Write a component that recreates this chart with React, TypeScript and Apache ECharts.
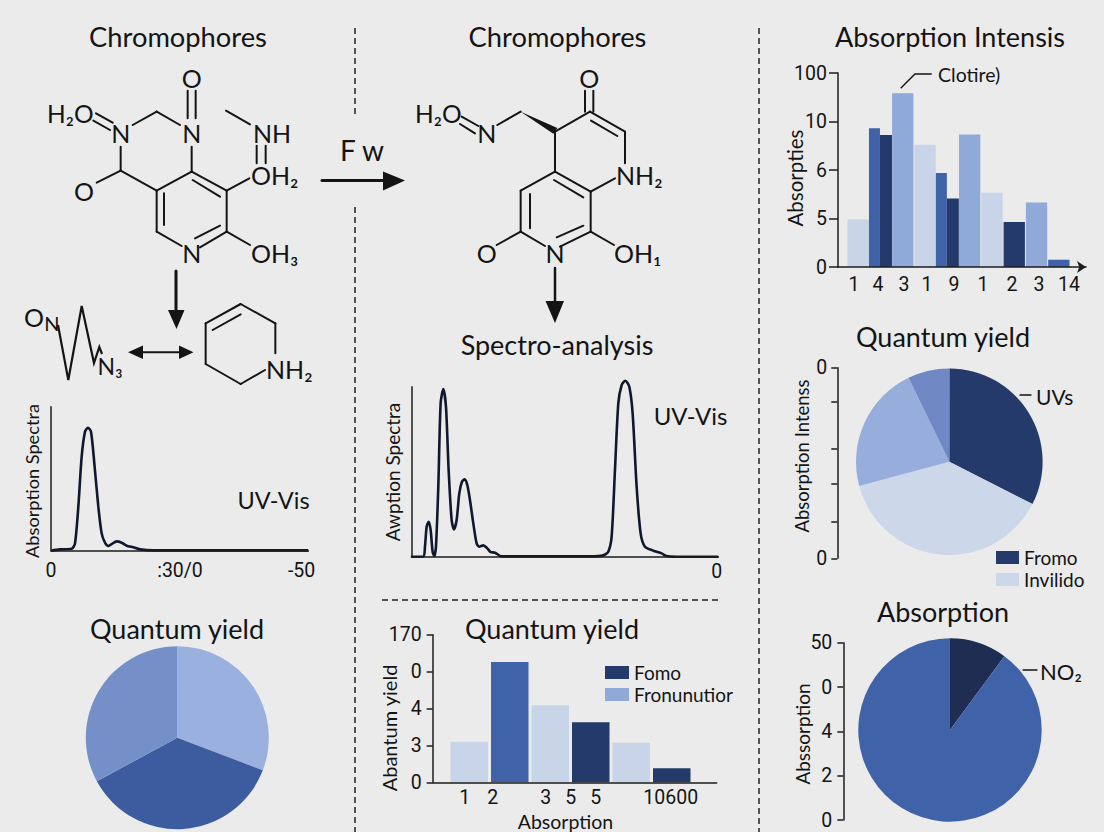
import React, { useEffect, useRef } from "react";
import * as echarts from "echarts";

// ---- data ----
const barGroups1 = ["a", "b", "c", "d", "e", "f", "g", "h", "i", "j"];
const wideValues1 = [0.98, null, 3.58, 2.52, null, 2.73, 1.53, 0.93, 1.33, 0.15];
const wideTones1 = ["light", null, "soft", "light", null, "soft", "light", "dark", "soft", "mid"];
const narrowLeft1 = [null, 2.86, null, null, 1.94, null, null, null, null, null];
const narrowRight1 = [null, 2.72, null, null, 1.41, null, null, null, null, null];
const xLabels1 = ["1", "4", "3", "1", "9", "1", "2", "3", "14"];
const yLabels1 = ["0", "5", "6", "10", "100"];

const spectrumLeftX = [0, 27, 62, 72, 82, 92, 102, 111, 120, 130, 142, 152, 162, 172, 182, 197, 212, 227, 247, 267, 307, 772];
const spectrumLeftY = [0, 4, 6, 22, 132, 282, 357, 369, 357, 262, 132, 52, 24, 14, 20, 28, 24, 15, 10, 4, 1, 1];
const spectrumLeftLabels = ["0", ":30/0", "-50"];

const spectrumMidX = [0, 36, 41, 46, 52, 58, 64, 69, 74, 81, 88, 96, 104, 112, 121, 128, 136, 144, 152, 160, 168, 176, 186, 196, 204, 216, 228, 238, 251, 271, 536, 576, 591, 601, 611, 621, 631, 642, 654, 664, 676, 688, 701, 726, 751, 766, 796, 921];
const spectrumMidY = [0, 0, 30, 90, 105, 80, 15, 2, 30, 210, 460, 503, 450, 260, 110, 82, 110, 190, 225, 232, 215, 170, 100, 40, 30, 34, 25, 14, 12, 1, 1, 4, 15, 60, 260, 460, 515, 528, 510, 430, 210, 70, 30, 18, 10, 2, 0, 0];
const spectrumMidLabels = ["0"];

const barCats2 = ["p", "q", "r", "s", "t", "u"];
const fomoValues2 = [null, null, null, 1.63, null, 0.38];
const fronValues2 = [1.1, null, 2.09, null, 1.07, null];
const midValues2 = [null, 3.26, null, null, null, null];
const xLabels2 = ["1", "2", "3", "5", "5", "10600"];
const yLabels2 = ["0", "3", "4", "0", "170"];

const pieLeftNames = ["Part A", "Part B", "Part C"];
const pieLeftValues = [30.8, 36.3, 32.9];
const pieRightNames = ["Fromo", "Invilido", "Part D", "Part E"];
const pieRightValues = [32.5, 38.3, 22, 7.2];
const pieLowNames = ["Part F", "NO2"];
const pieLowValues = [10.1, 89.9];
const axisLabelsPieRight = ["0", "", "", "", "", "0"];
const axisLabelsPieLow = ["0", "2", "4", "0", "50"];

// ---- styling ----
const DARK = "#233a6b";
const MID = "#3f62a8";
const SOFT = "#8fa9d9";
const LIGHT = "#c8d4e8";
const tones: Record<string, string> = { dark: DARK, mid: MID, soft: SOFT, light: LIGHT };
const INK = "#141414";
const TITLE_FONT = "Lato";
const TICK_FONT = "Roboto";
const BG = "#ebebeb";

function txt(x: number, y: number, text: string, size: number, align = "center", family = TITLE_FONT, rotation = 0) {
  return {
    type: "text", x, y, rotation, silent: true,
    style: { text, fontSize: size, fontFamily: family, fill: INK, align, verticalAlign: "middle" },
  };
}
function seg(x1: number, y1: number, x2: number, y2: number, w = 2) {
  return { type: "line", silent: true, shape: { x1, y1, x2, y2 }, style: { stroke: INK, lineWidth: w, lineCap: "round" } };
}
function dash(x1: number, y1: number, x2: number, y2: number) {
  return { type: "line", silent: true, shape: { x1, y1, x2, y2 }, style: { stroke: "#222", lineWidth: 1.5, lineDash: [6, 4] } };
}
function poly(points: number[][]) {
  return { type: "polygon", silent: true, shape: { points }, style: { fill: INK } };
}

function decorations() {
  const els: any[] = [];
  // crop helpers: zoomed coordinates to page coordinates
  const bonds = (ox: number, oy: number, list: number[][]) =>
    list.forEach((b) => els.push(seg(ox + b[0] / 3, oy + b[1] / 3, ox + b[2] / 3, oy + b[3] / 3)));

  // separators
  els.push(dash(355, 28, 355, 118), dash(355, 207, 355, 832), dash(759, 28, 759, 832), dash(382, 600, 720, 600));

  // titles
  els.push(
    txt(178, 36, "Chromophores", 27.3),
    txt(557.5, 36, "Chromophores", 27.3),
    txt(950, 36, "Absorption Intensis", 27),
    txt(177, 628, "Quantum yield", 27),
    txt(552, 628, "Quantum yield", 27),
    txt(943, 336, "Quantum yield", 27),
    txt(943, 611, "Absorption", 27),
    txt(557, 344, "Spectro-analysis", 27)
  );

  // left molecule
  bonds(0, 0, [
    [288, 340, 338, 368], [280, 362, 330, 390], [398, 375, 470, 335], [470, 335, 540, 375],
    [563, 355, 563, 272], [587, 355, 587, 272], [362, 440, 362, 512], [362, 512, 290, 548],
    [362, 512, 470, 572], [470, 572, 575, 515], [575, 515, 575, 440], [575, 515, 680, 572],
    [578, 540, 660, 590], [470, 572, 470, 695], [492, 580, 492, 675], [470, 695, 545, 738],
    [600, 742, 680, 695], [585, 715, 660, 677], [680, 572, 680, 695], [680, 572, 748, 535],
    [680, 695, 750, 735], [678, 332, 750, 373], [770, 437, 770, 490], [797, 437, 797, 490],
    [617, 970, 722, 912], [722, 912, 826, 970], [826, 970, 826, 1060], [617, 970, 617, 1092],
    [617, 1092, 722, 1152], [722, 1152, 795, 1110], [638, 990, 722, 943],
  ]);
  els.push(
    txt(47, 113, "H₂O", 24.5, "left"),
    txt(120.7, 133, "N", 25),
    txt(191.7, 78, "O", 25),
    txt(191.7, 133, "N", 25),
    txt(253, 133, "NH", 25, "left"),
    txt(251, 175, "OH₂", 25, "left"),
    txt(84, 191, "O", 25),
    txt(191.7, 253, "N", 25),
    txt(251, 253, "OH₃", 25, "left"),
    txt(24, 317, "O", 25, "left"),
    txt(52, 323, "N", 20),
    txt(110, 366, "N₃", 23),
    txt(266, 369, "NH₂", 25, "left")
  );
  els.push({
    type: "polyline", silent: true,
    shape: { points: [[58, 325], [68.3, 380], [81.7, 306], [94, 363], [99.3, 347], [102, 354]] },
    style: { stroke: INK, lineWidth: 2.2, fill: "none" },
  });
  els.push(seg(176, 271, 176, 312, 3), poly([[168, 310], [184.5, 310], [176.5, 329]]));
  els.push(seg(140, 352.3, 182, 352.3, 2), poly([[128, 352.3], [143, 345.5], [143, 359]]), poly([[193.5, 352.3], [179, 345.5], [179, 359]]));

  // flow arrow
  els.push(txt(362, 150, "F w", 28), seg(322, 180.5, 384, 180.5, 3), poly([[383, 171.5], [405, 180.5], [383, 190.5]]));

  // middle molecule
  bonds(360, 0, [
    [305, 350, 355, 378], [300, 372, 345, 400], [412, 375, 482, 335], [585, 395, 690, 335],
    [675, 335, 675, 272], [700, 335, 700, 272], [690, 335, 795, 395], [693, 362, 772, 408],
    [795, 395, 795, 490], [585, 395, 585, 515], [585, 515, 692, 575], [582, 540, 670, 592],
    [692, 575, 765, 535], [585, 515, 482, 572], [482, 572, 482, 695], [510, 582, 510, 685],
    [482, 695, 555, 738], [410, 735, 482, 695], [692, 575, 692, 695], [600, 740, 692, 695],
    [590, 712, 670, 677], [692, 695, 762, 735],
  ]);
  els.push(poly([[360 + 482 / 3, 335 / 3], [360 + 592 / 3, 384 / 3], [360 + 580 / 3, 401 / 3]]));
  els.push(
    txt(415, 113, "H₂O", 24.5, "left"),
    txt(486.7, 133, "N", 25),
    txt(589.3, 78, "O", 25),
    txt(616, 175, "NH₂", 25, "left"),
    txt(486.7, 253, "O", 25),
    txt(555, 253, "N", 25),
    txt(614, 253, "OH₁", 25, "left")
  );
  els.push(seg(555, 268, 555, 302, 2.5), poly([[545.5, 301], [564, 301], [555, 323]]));

  // spectra and chart captions
  els.push(
    txt(273.5, 500, "UV-Vis", 23.5),
    txt(690.5, 415, "UV-Vis", 24),
    txt(32, 481, "Absorption Spectra", 18.2, "center", TITLE_FONT, Math.PI / 2),
    txt(392, 472, "Awption Spectra", 19, "center", TITLE_FONT, Math.PI / 2),
    txt(795, 178, "Absorpties", 20.5, "center", TITLE_FONT, Math.PI / 2),
    txt(389, 728, "Abantum yield", 20, "center", TITLE_FONT, Math.PI / 2),
    txt(565.5, 821, "Absorption", 19.5),
    txt(802, 456, "Absorption Intenss", 18.5, "center", TITLE_FONT, Math.PI / 2),
    txt(802, 734, "Abssorption", 19, "center", TITLE_FONT, Math.PI / 2),
    txt(938, 74, "Clotire)", 19.5, "left"),
    txt(1036, 396, "UVs", 21, "left"),
    seg(1020, 395, 1031, 395, 1.4),
    txt(1040, 671, "NO₂", 22, "left"),
    seg(1023, 670, 1037, 670, 1.4)
  );
  els.push({
    type: "polyline", silent: true,
    shape: { points: [[900.7, 88.3], [915, 74], [931.7, 74]] },
    style: { stroke: INK, lineWidth: 1.4, fill: "none" },
  });
  return els;
}

const hiddenCat = (gridIndex: number, data: string[]) => ({
  type: "category", gridIndex, data, show: false,
});
const hiddenVal = (gridIndex: number, max: number) => ({
  type: "value", gridIndex, min: 0, max, show: false, splitLine: { show: false },
});
const lineStyle = { color: "#1c1c1c", width: 1.5 };
const tickFont = { color: INK, fontFamily: TICK_FONT, fontSize: 19.5 };

function frameX(gridIndex: number, max: number, positions: number[], labels: string[], margin: number, extra: any = {}) {
  return {
    type: "value", gridIndex, min: 0, max, z: 5,
    splitLine: { show: false },
    axisLine: { show: true, onZero: false, lineStyle, ...extra },
    axisTick: { show: false },
    axisLabel: {
      ...tickFont, margin,
      customValues: positions,
      formatter: (v: number) => labels[positions.indexOf(v)] ?? "",
    },
  };
}
function frameY(gridIndex: number, max: number, positions: number[], labels: string[], tickLength: number, margin: number) {
  return {
    type: "value", gridIndex, min: 0, max, z: 5,
    splitLine: { show: false },
    axisLine: { show: true, onZero: false, lineStyle },
    axisTick: { show: true, length: tickLength, lineStyle, customValues: positions },
    axisLabel: {
      ...tickFont, margin,
      customValues: positions,
      formatter: (v: number) => labels[positions.indexOf(v)] ?? "",
    },
  };
}
const quiet = { emphasis: { disabled: true }, silent: true };
const pieBase = { type: "pie", startAngle: 90, label: { show: false }, labelLine: { show: false }, ...quiet };

function buildOption() {
  const items = (names: string[], values: number[], colors: string[]) =>
    names.map((name, i) => ({ name, value: values[i], itemStyle: { color: colors[i] } }));
  return {
    animation: false,
    backgroundColor: BG,
    grid: [
      { left: 838, top: 73, width: 248, height: 194 },
      { left: 847, top: 73, width: 223, height: 194 },
      { left: 51, top: 406.7, width: 257.3, height: 144 },
      { left: 411.3, top: 386.7, width: 307, height: 170 },
      { left: 432.7, top: 634.7, width: 284, height: 147.6 },
      { left: 449, top: 634.7, width: 243, height: 147.6 },
      { left: 837.3, top: 367.7, width: 1, height: 190.6 },
      { left: 843.3, top: 642.7, width: 1, height: 177.3 },
    ],
    xAxis: [
      frameX(0, 248, [16, 40, 66, 89, 116, 145, 174, 201, 231], xLabels1, 7, { symbol: ["none", "arrow"], symbolSize: [9, 9] }),
      hiddenCat(1, barGroups1),
      hiddenCat(1, barGroups1),
      frameX(2, 772, [0, 387, 752], spectrumLeftLabels, 10),
      frameX(3, 921, [916], spectrumMidLabels, 5),
      frameX(4, 284, [32, 60, 113, 138, 163, 238], xLabels2, 5),
      hiddenCat(5, barCats2),
      hiddenVal(6, 1),
      hiddenVal(7, 1),
    ],
    yAxis: [
      frameY(0, 4, [0, 1, 2, 3, 4], yLabels1, 9, 11),
      hiddenVal(1, 4),
      { ...frameY(2, 432, [], [], 0, 0), axisTick: { show: false }, axisLabel: { show: false } },
      { ...frameY(3, 510, [], [], 0, 0), axisTick: { show: false }, axisLabel: { show: false } },
      frameY(4, 4, [0, 1, 2, 3, 4], yLabels2, 6, 11),
      hiddenVal(5, 4),
      frameY(6, 572, [0, 110, 225, 330, 470, 572], axisLabelsPieRight, 6, 10),
      frameY(7, 4, [0, 1, 2, 3, 4], axisLabelsPieLow, 6, 11),
    ],
    legend: [
      {
        left: 605, top: 663, padding: 0, orient: "vertical", icon: "rect",
        itemWidth: 24, itemHeight: 13, itemGap: 3,
        textStyle: { fontFamily: TITLE_FONT, fontSize: 19, color: INK },
        data: ["Fomo", "Fronunutior"],
      },
      {
        left: 996, top: 548, padding: 0, orient: "vertical", icon: "rect",
        itemWidth: 23, itemHeight: 13, itemGap: 3,
        textStyle: { fontFamily: TITLE_FONT, fontSize: 19, color: INK },
        data: ["Fromo", "Invilido"],
      },
    ],
    series: [
      {
        type: "bar", name: "Intensity", xAxisIndex: 1, yAxisIndex: 1, barWidth: 21.3, ...quiet,
        data: wideValues1.map((v, i) => ({ value: v, itemStyle: { color: wideTones1[i] ? tones[wideTones1[i] as string] : undefined } })),
      },
      {
        type: "bar", name: "Left", xAxisIndex: 2, yAxisIndex: 1, barWidth: 11, barGap: 0, data: narrowLeft1,
        itemStyle: { color: MID }, ...quiet,
      },
      {
        type: "bar", name: "Right", xAxisIndex: 2, yAxisIndex: 1, barWidth: 12, barGap: 0, data: narrowRight1,
        itemStyle: { color: DARK }, ...quiet,
      },
      {
        type: "line", name: "Spectrum A", xAxisIndex: 3, yAxisIndex: 2, smooth: 0.25, showSymbol: false, clip: false,
        lineStyle: { color: "#10182e", width: 2.6 },
        data: spectrumLeftX.map((x, i) => [x, spectrumLeftY[i]]), ...quiet,
      },
      {
        type: "line", name: "Spectrum B", xAxisIndex: 4, yAxisIndex: 3, smooth: 0.25, showSymbol: false, clip: false,
        lineStyle: { color: "#10182e", width: 2.6 },
        data: spectrumMidX.map((x, i) => [x, spectrumMidY[i]]), ...quiet,
      },
      {
        type: "bar", name: "Fomo", xAxisIndex: 6, yAxisIndex: 5, barWidth: 37.5, barGap: "-100%", data: fomoValues2,
        itemStyle: { color: DARK }, ...quiet,
      },
      {
        type: "bar", name: "Fronunutior", xAxisIndex: 6, yAxisIndex: 5, barWidth: 37.5, barGap: "-100%",
        data: fronValues2.map((v) => ({ value: v, itemStyle: { color: LIGHT } })),
        itemStyle: { color: SOFT }, ...quiet,
      },
      {
        type: "bar", name: "Yield", xAxisIndex: 6, yAxisIndex: 5, barWidth: 37.5, barGap: "-100%", data: midValues2,
        itemStyle: { color: MID }, ...quiet,
      },
      {
        ...pieBase, name: "Quantum A", center: [177.3, 737.7], radius: 91.5,
        data: items(pieLeftNames, pieLeftValues, ["#9ab1e0", "#3d5c9f", "#7590c8"]),
      },
      {
        ...pieBase, name: "Quantum B", center: [949.3, 461.7], radius: 93.3,
        data: items(pieRightNames, pieRightValues, [DARK, "#cdd7ea", "#97aedd", "#7089c4"]),
      },
      {
        ...pieBase, name: "Absorption", center: [950, 730], radius: 91.7,
        data: items(pieLowNames, pieLowValues, ["#1f2d52", MID]),
      },
    ],
    graphic: { elements: decorations() },
  };
}

export default function App() {
  const ref = useRef<HTMLDivElement>(null);
  useEffect(() => {
    document.body.style.margin = "0";
    document.body.style.background = BG;
    const chart = echarts.init(ref.current as HTMLDivElement, undefined, { renderer: "svg" });
    chart.setOption(buildOption() as any);
    return () => chart.dispose();
  }, []);
  return <div ref={ref} style={{ position: "absolute", left: 0, top: 0, width: 1104, height: 832 }} />;
}
